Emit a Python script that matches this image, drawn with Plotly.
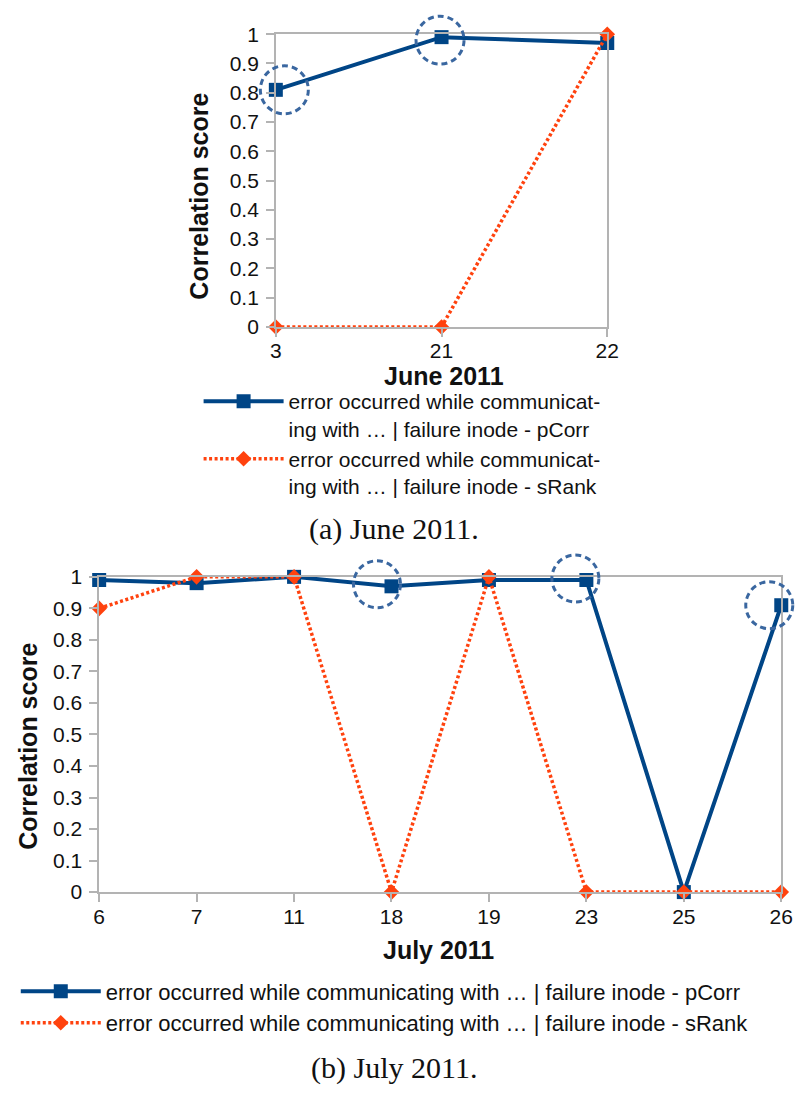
import plotly.graph_objects as go

# ---------------- data ----------------
june_days = ["3", "21", "22"]
june_pcorr = [0.81, 0.99, 0.97]
june_srank = [0.0, 0.0, 1.0]
june_highlight = ["3", "21"]

july_days = ["6", "7", "11", "18", "19", "23", "25", "26"]
july_pcorr = [0.99, 0.98, 1.0, 0.97, 0.99, 0.99, 0.0, 0.91]
july_srank = [0.9, 1.0, 1.0, 0.0, 1.0, 0.0, 0.0, 0.0]
july_highlight = ["18", "23", "26"]

y_ticks = [0, 0.1, 0.2, 0.3, 0.4, 0.5, 0.6, 0.7, 0.8, 0.9, 1]
Y_RANGE = [0, 1]

name_top_p = "error occurred while communicat-<br>ing with … | failure inode - pCorr"
name_top_s = "error occurred while communicat-<br>ing with … | failure inode - sRank"
name_bot_p = "error occurred while communicating with … | failure inode - pCorr"
name_bot_s = "error occurred while communicating with … | failure inode - sRank"

BLUE = "#004586"
ORANGE = "#ff420e"
CIRCLE = "#3a67a0"
GRID = "#b3b3b3"
FONT = "Liberation Sans"

W, H = 805, 1093

fig = go.Figure()

june_x = list(range(len(june_days)))
july_x = list(range(len(july_days)))

fig.add_trace(go.Scatter(
    x=june_x, y=june_pcorr, mode="lines+markers", name=name_top_p,
    line=dict(color=BLUE, width=4), marker=dict(symbol="square", size=14, color=BLUE),
    xaxis="x", yaxis="y", legend="legend", cliponaxis=False))
fig.add_trace(go.Scatter(
    x=june_x, y=june_srank, mode="lines+markers", name=name_top_s,
    line=dict(color=ORANGE, width=3.5, dash="3px,2.5px"),
    marker=dict(symbol="diamond", size=12, color=ORANGE),
    xaxis="x", yaxis="y", legend="legend", cliponaxis=False))

fig.add_trace(go.Scatter(
    x=july_x, y=july_pcorr, mode="lines+markers", name=name_bot_p,
    line=dict(color=BLUE, width=4), marker=dict(symbol="square", size=14, color=BLUE),
    xaxis="x2", yaxis="y2", legend="legend2", cliponaxis=False))
fig.add_trace(go.Scatter(
    x=july_x, y=july_srank, mode="lines+markers", name=name_bot_s,
    line=dict(color=ORANGE, width=3.5, dash="3px,2.5px"),
    marker=dict(symbol="diamond", size=12, color=ORANGE),
    xaxis="x2", yaxis="y2", legend="legend2", cliponaxis=False))


# dashed highlight circles: pixel sized, anchored on the highlighted points.
# Domain references are used so the circles are not clipped at the plot edge.
def circle(ax, n, i, val, dx, dy, r):
    xa = i / (n - 1)
    ya = (val - Y_RANGE[0]) / (Y_RANGE[1] - Y_RANGE[0])
    return dict(type="circle", xref=f"{ax[0]} domain", yref=f"{ax[1]} domain",
                xsizemode="pixel", ysizemode="pixel",
                xanchor=xa, yanchor=ya, x0=dx - r, x1=dx + r, y0=dy - r, y1=dy + r,
                line=dict(color=CIRCLE, width=3, dash="6px,4px"), layer="above")


june_offsets = {"3": (8.5, 0), "21": (-1.5, -3)}
july_offsets = {"18": (-14.5, 2), "23": (-11, 1.5), "26": (-12, 0)}
shapes = []
for d in june_highlight:
    i = june_days.index(d)
    dx, dy = june_offsets[d]
    shapes.append(circle(("x", "y"), len(june_days), i, june_pcorr[i], dx, dy, 24))
for d in july_highlight:
    i = july_days.index(d)
    dx, dy = july_offsets[d]
    shapes.append(circle(("x2", "y2"), len(july_days), i, july_pcorr[i], dx, dy, 23.5))


def px_x(p):
    return p / W


def px_y(p):
    return 1 - p / H


axis_common = dict(showline=True, mirror=True, linecolor=GRID, linewidth=1.5,
                   ticks="outside", ticklen=8, tickcolor=GRID, tickwidth=1.5,
                   showgrid=False, zeroline=False,
                   tickfont=dict(family=FONT, size=21, color="#111111"))

fig.update_layout(
    width=W, height=H, autosize=False,
    margin=dict(l=0, r=0, t=0, b=0),
    paper_bgcolor="white", plot_bgcolor="white",
    font=dict(family=FONT, color="#111111"),
    shapes=shapes,
    xaxis=dict(domain=[px_x(276), px_x(615)], range=[0, len(june_days) - 1],
               tickvals=june_x, ticktext=june_days, anchor="y",
               ticklabelstandoff=-4, **axis_common),
    yaxis=dict(domain=[px_y(321.7), px_y(22.7)], range=Y_RANGE, tickvals=y_ticks,
               anchor="x", ticklabelstandoff=3, **axis_common),
    xaxis2=dict(domain=[px_x(95.3), px_x(793)], range=[0, len(july_days) - 1],
                tickvals=july_x, ticktext=july_days, anchor="y2",
                ticklabelstandoff=-3, **axis_common),
    yaxis2=dict(domain=[px_y(899), px_y(577)], range=Y_RANGE, tickvals=y_ticks,
                anchor="x2", ticklabelstandoff=3, **axis_common),
    legend=dict(x=px_x(197), y=px_y(377), xanchor="left", yanchor="top",
                font=dict(family=FONT, size=21, color="#111111"),
                bgcolor="rgba(0,0,0,0)", itemwidth=80, valign="top",
                tracegroupgap=0),
    legend2=dict(x=px_x(10), y=px_y(979), xanchor="left", yanchor="top",
                 font=dict(family=FONT, size=22, color="#111111"),
                 bgcolor="rgba(0,0,0,0)", itemwidth=80, tracegroupgap=0),
    annotations=[
        dict(text="<b>Correlation score</b>", xref="paper", yref="paper",
             x=px_x(197), y=px_y(188), textangle=-90, showarrow=False,
             xanchor="center", yanchor="middle",
             font=dict(family=FONT, size=25, color="#111111")),
        dict(text="<b>June 2011</b>", xref="paper", yref="paper",
             x=px_x(448), y=px_y(372), showarrow=False, xanchor="center", yanchor="middle",
             font=dict(family=FONT, size=25, color="#111111")),
        dict(text="(a) June 2011.", xref="paper", yref="paper",
             x=px_x(397), y=px_y(528), showarrow=False, xanchor="center", yanchor="middle",
             font=dict(family="Liberation Serif", size=30, color="#111111")),
        dict(text="<b>Correlation score</b>", xref="paper", yref="paper",
             x=px_x(23), y=px_y(750), textangle=-90, showarrow=False,
             xanchor="center", yanchor="middle",
             font=dict(family=FONT, size=25, color="#111111")),
        dict(text="<b>July 2011</b>", xref="paper", yref="paper",
             x=px_x(442), y=px_y(958), showarrow=False, xanchor="center", yanchor="middle",
             font=dict(family=FONT, size=25, color="#111111")),
        dict(text="(b) July 2011.", xref="paper", yref="paper",
             x=px_x(397), y=px_y(1079), showarrow=False, xanchor="center", yanchor="middle",
             font=dict(family="Liberation Serif", size=30, color="#111111")),
    ],
)

fig.write_html("out.html")
